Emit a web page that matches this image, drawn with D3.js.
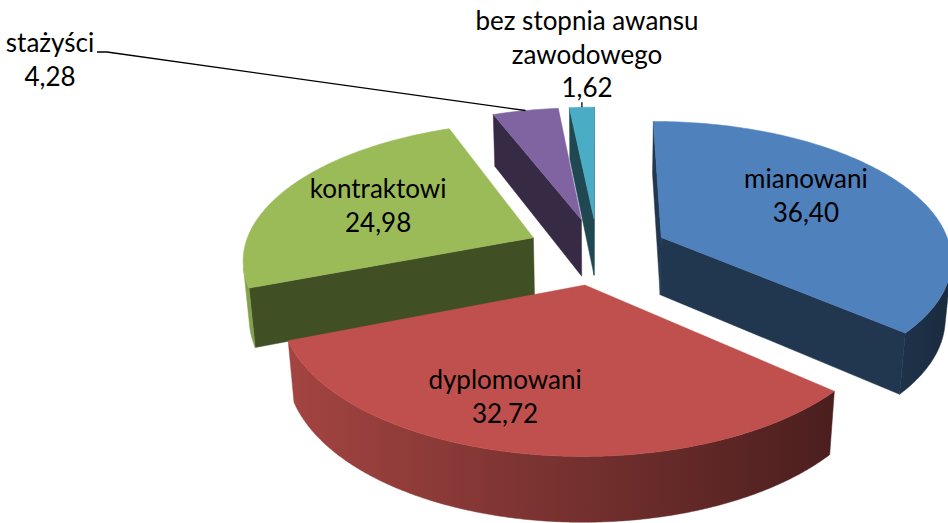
<!DOCTYPE html>
<html>
<head>
<meta charset="utf-8">
<script src="https://d3js.org/d3.v7.min.js"></script>
<style>
  body { margin: 0; background: #fff; }
  text { font-family: Lato, "Open Sans", sans-serif; fill: #000; }
</style>
</head>
<body>
<script>
// data
var categories = ["mianowani", "dyplomowani", "kontraktowi", "stażyści", "bez stopnia awansu zawodowego"];
var values = [36.40, 32.72, 24.98, 4.28, 1.62];
var colors = ["#4F81BD", "#C0504D", "#9BBB59", "#8064A2", "#4BACC6"];
// how each category name is broken into lines
var labelLines = [["mianowani"], ["dyplomowani"], ["kontraktowi"], ["stażyści"], ["bez stopnia awansu", "zawodowego"]];

var width = 948, height = 523;

// 3d view settings (pie radius = 1)
var S = 290, tilt = 28 * Math.PI / 180,
    sa = Math.sin(tilt), ca = Math.cos(tilt),
    camDist = 7 * ca,
    cx = 597.5, cy = 251,
    thick = 0.23, explode = 0.245;

var fmt = d3.formatLocale({decimal: ",", thousands: " ", grouping: [3], currency: ["", " zł"]}).format(".2f");

var svg = d3.select("body").append("svg")
    .attr("width", width)
    .attr("height", height);
var defs = svg.append("defs");

// perspective projection: X right, Y away from viewer, Z up (0 = top face)
function proj(X, Y, Z) {
  var p = 1 / (1 + (Y * ca - Z * sa) / camDist);
  return [cx + S * X * p, cy - S * (Y * sa + Z * ca) * p];
}
var cam = [0, -camDist * ca, camDist * sa];
function faces(P, n) {
  return (cam[0] - P[0]) * n[0] + (cam[1] - P[1]) * n[1] + (cam[2] - P[2]) * n[2] > 0;
}
function shade(c, k) {
  var r = d3.rgb(c);
  return d3.rgb(r.r * k, r.g * k, r.b * k).formatHex();
}
// wall light: brighter on the left, darker on the right
function wallK(t) { return 0.595 - 0.272 * Math.sin(t); }
var line = d3.line();

var arcs = d3.pie().sort(null).value(function (d) { return d; })(values);

var slices = arcs.map(function (a, i) {
  var m = (a.startAngle + a.endAngle) / 2;
  var ox = explode * Math.sin(m), oy = explode * Math.cos(m);
  var c = [ox + 0.5 * Math.sin(m), oy + 0.5 * Math.cos(m), 0];
  var dist = Math.hypot(c[0] - cam[0], c[1] - cam[1], c[2] - cam[2]);
  return {i: i, a0: a.startAngle, a1: a.endAngle, mid: m, ox: ox, oy: oy, dist: dist};
});

// far slices first
var order = slices.slice().sort(function (a, b) { return b.dist - a.dist; });
var gid = 0;

order.forEach(function (s) {
  var g = svg.append("g").attr("class", "slice");
  var col = colors[s.i];
  function rim(t, z) { return [s.ox + Math.sin(t), s.oy + Math.cos(t), z]; }
  function apex(z) { return [s.ox, s.oy, z]; }
  function pp(q) { return proj(q[0], q[1], q[2]); }
  function P(pts) { return line(pts.map(pp)) + "Z"; }

  // cut faces
  [[s.a0, -Math.PI / 2], [s.a1, Math.PI / 2]].forEach(function (f) {
    var t = f[0], nt = t + f[1];
    var n = [Math.sin(nt), Math.cos(nt), 0];
    var mp = [s.ox + 0.5 * Math.sin(t), s.oy + 0.5 * Math.cos(t), -thick / 2];
    if (!faces(mp, n)) return;
    var c = shade(col, 0.42);
    g.append("path")
      .attr("d", P([apex(0), rim(t, 0), rim(t, -thick), apex(-thick)]))
      .attr("fill", c).attr("stroke", c).attr("stroke-width", 0.5);
  });

  // outer wall: find visible runs, draw each as one shape with a gradient
  var steps = Math.max(2, Math.ceil((s.a1 - s.a0) / (0.5 * Math.PI / 180)));
  var dt = (s.a1 - s.a0) / steps;
  var runs = [], cur = null;
  for (var k = 0; k < steps; k++) {
    var t0 = s.a0 + k * dt, tm = t0 + dt / 2;
    var vis = faces(rim(tm, -thick / 2), [Math.sin(tm), Math.cos(tm), 0]);
    if (vis) {
      if (!cur) { cur = [t0, t0 + dt]; runs.push(cur); } else cur[1] = t0 + dt;
    } else cur = null;
  }
  runs.forEach(function (r) {
    var n = Math.max(2, Math.ceil((r[1] - r[0]) / dt));
    var topPts = [], botPts = [];
    for (var j = 0; j <= n; j++) {
      var t = r[0] + (r[1] - r[0]) * j / n;
      topPts.push(rim(t, 0));
      botPts.push(rim(t, -thick));
    }
    var xa = pp(rim(r[0], -thick / 2))[0], xb = pp(rim(r[1], -thick / 2))[0];
    var id = "wall" + (gid++);
    var grad = defs.append("linearGradient").attr("id", id)
      .attr("gradientUnits", "userSpaceOnUse")
      .attr("x1", xa).attr("y1", 0).attr("x2", xb === xa ? xa + 1 : xb).attr("y2", 0);
    grad.append("stop").attr("offset", 0).attr("stop-color", shade(col, wallK(r[0])));
    grad.append("stop").attr("offset", 1).attr("stop-color", shade(col, wallK(r[1])));
    g.append("path")
      .attr("d", P(topPts.concat(botPts.reverse())))
      .attr("fill", "url(#" + id + ")")
      .attr("stroke", "url(#" + id + ")")
      .attr("stroke-width", 0.5);
  });

  // top face
  var top = [apex(0)];
  var tsteps = Math.max(2, Math.ceil((s.a1 - s.a0) / (Math.PI / 180)));
  for (var j = 0; j <= tsteps; j++) top.push(rim(s.a0 + (s.a1 - s.a0) * j / tsteps, 0));
  g.append("path")
    .attr("d", P(top))
    .attr("fill", col).attr("stroke", col).attr("stroke-width", 0.5);
});

// label placement: inside labels in slice space (angle deg, radius), outside ones on the page
var labelPlace = [
  {inside: true, ang: 58.9, r: 0.63},
  {inside: true, ang: 198.7, r: 0.73},
  {inside: true, ang: 293.3, r: 0.62},
  {inside: false, x: 50, y: 52, leader: [[97, 52], [107, 52]]},
  {inside: false, x: 587, y: 30, tick: 5}
];

var fontSize = 26, lineH = 33.5;
var labels = svg.append("g").attr("class", "labels");

slices.forEach(function (s) {
  var lp = labelPlace[s.i];
  var lines = labelLines[s.i].concat([fmt(values[s.i])]);
  var x, y0;
  if (lp.inside) {
    var t = lp.ang * Math.PI / 180;
    var pt = proj(s.ox + lp.r * Math.sin(t), s.oy + lp.r * Math.cos(t), 0);
    x = pt[0];
    y0 = pt[1] - lineH * (lines.length - 1) / 2 + fontSize * 0.33;
  } else {
    x = lp.x; y0 = lp.y;
    // leader line to the middle of the slice rim
    var end = proj(s.ox + Math.sin(s.mid), s.oy + Math.cos(s.mid), 0);
    var pts = lp.leader ? lp.leader.concat([end]) : [[end[0], end[1] - lp.tick], end];
    labels.append("path")
      .attr("d", line(pts))
      .attr("fill", "none")
      .attr("stroke", "#000")
      .attr("stroke-width", 1.3);
  }
  var txt = labels.append("text")
    .attr("text-anchor", "middle")
    .style("font-size", fontSize + "px");
  lines.forEach(function (l, j) {
    txt.append("tspan").attr("x", x).attr("y", y0 + j * lineH).text(l);
  });
});
</script>
</body>
</html>
